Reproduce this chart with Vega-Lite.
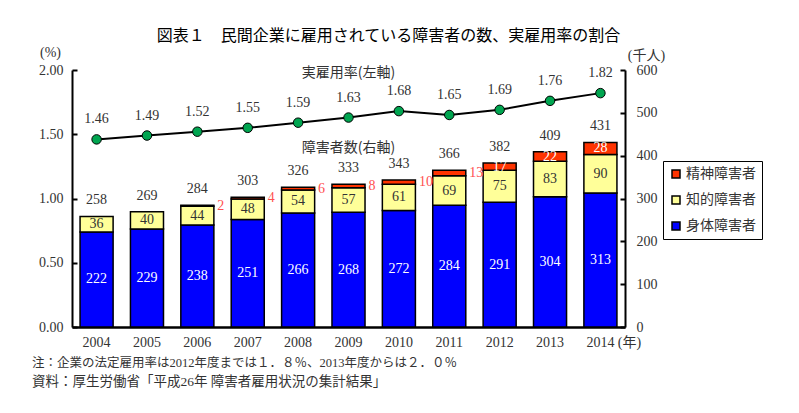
{
  "$schema": "https://vega.github.io/schema/vega-lite/v6.json",
  "width": 553,
  "height": 257,
  "autosize": {"type": "none"},
  "padding": {"left": 72, "top": 70, "right": 174, "bottom": 86},
  "background": "white",
  "title": {"text": "図表１　民間企業に雇用されている障害者の数、実雇用率の割合", "font": "Noto Sans CJK JP", "fontSize": 16, "fontWeight": "normal", "color": "black", "anchor": "middle", "dx": 40, "offset": 1},
  "config": {
    "view": {"stroke": null},
    "axis": {"labelFont": "Liberation Serif", "labelFontSize": 14, "labelColor": "#333", "titleFont": "Liberation Serif, Noto Sans CJK JP", "titleFontWeight": "normal", "titleFontSize": 14, "titleColor": "#333", "grid": false, "domainColor": "black", "domainWidth": 2, "tickColor": "black", "tickWidth": 2}
  },
  "datasets": {
    "bars": [
      {"year": "2004", "type": "body", "value": 222}, {"year": "2004", "type": "intellectual", "value": 36},
      {"year": "2005", "type": "body", "value": 229}, {"year": "2005", "type": "intellectual", "value": 40},
      {"year": "2006", "type": "body", "value": 238}, {"year": "2006", "type": "intellectual", "value": 44}, {"year": "2006", "type": "mental", "value": 2},
      {"year": "2007", "type": "body", "value": 251}, {"year": "2007", "type": "intellectual", "value": 48}, {"year": "2007", "type": "mental", "value": 4},
      {"year": "2008", "type": "body", "value": 266}, {"year": "2008", "type": "intellectual", "value": 54}, {"year": "2008", "type": "mental", "value": 6},
      {"year": "2009", "type": "body", "value": 268}, {"year": "2009", "type": "intellectual", "value": 57}, {"year": "2009", "type": "mental", "value": 8},
      {"year": "2010", "type": "body", "value": 272}, {"year": "2010", "type": "intellectual", "value": 61}, {"year": "2010", "type": "mental", "value": 10},
      {"year": "2011", "type": "body", "value": 284}, {"year": "2011", "type": "intellectual", "value": 69}, {"year": "2011", "type": "mental", "value": 13},
      {"year": "2012", "type": "body", "value": 291}, {"year": "2012", "type": "intellectual", "value": 75}, {"year": "2012", "type": "mental", "value": 17},
      {"year": "2013", "type": "body", "value": 304}, {"year": "2013", "type": "intellectual", "value": 83}, {"year": "2013", "type": "mental", "value": 22},
      {"year": "2014", "type": "body", "value": 313}, {"year": "2014", "type": "intellectual", "value": 90}, {"year": "2014", "type": "mental", "value": 28}
    ],
    "years": [
      {"year": "2004", "total": 258, "rate": 1.46},
      {"year": "2005", "total": 269, "rate": 1.49},
      {"year": "2006", "total": 284, "rate": 1.52},
      {"year": "2007", "total": 303, "rate": 1.55},
      {"year": "2008", "total": 326, "rate": 1.59},
      {"year": "2009", "total": 333, "rate": 1.63},
      {"year": "2010", "total": 343, "rate": 1.68},
      {"year": "2011", "total": 366, "rate": 1.65},
      {"year": "2012", "total": 382, "rate": 1.69},
      {"year": "2013", "total": 409, "rate": 1.76},
      {"year": "2014", "total": 431, "rate": 1.82}
    ]
  },
  "encoding": {
    "x": {
      "field": "year", "type": "nominal",
      "scale": {"paddingInner": 0.344, "paddingOuter": 0.16},
      "axis": {"title": "(年)", "titleX": 557, "titleY": 15, "titleAlign": "center", "titleBaseline": "middle", "ticks": false, "labelPadding": 8, "labelAngle": 0, "domainWidth": 2.5}
    }
  },
  "layer": [
    {
      "data": {"name": "bars"},
      "transform": [{"stack": "value", "groupby": ["year"], "sort": [{"field": "type", "order": "ascending"}], "as": ["v0", "v1"]}],
      "layer": [
        {
          "mark": {"type": "bar", "stroke": "black", "strokeWidth": 1.5},
          "encoding": {
            "y": {"field": "v0", "type": "quantitative", "scale": {"domain": [0, 600]},
              "axis": {"orient": "right", "values": [0, 100, 200, 300, 400, 500, 600], "title": "(千人)", "titleAngle": 0, "titleX": 21, "titleY": -15, "titleAlign": "center", "titleBaseline": "middle", "tickSize": -5, "labelPadding": 16}},
            "y2": {"field": "v1"},
            "color": {"field": "type", "type": "nominal",
              "scale": {"domain": ["body", "intellectual", "mental"], "range": ["#0000ff", "#ffff99", "#ff3300"]},
              "legend": {"orient": "none", "legendX": 591, "legendY": 91, "title": null, "values": ["mental", "intellectual", "body"],
                "labelExpr": "datum.label == 'mental' ? '精神障害者' : datum.label == 'intellectual' ? '知的障害者' : '身体障害者'",
                "symbolType": "square", "symbolSize": 64, "symbolStrokeColor": "black", "symbolStrokeWidth": 1.5,
                "labelFont": "Noto Sans CJK JP", "labelFontSize": 14, "labelColor": "#333", "strokeColor": "black", "fillColor": "white",
                "padding": 6, "rowPadding": 12, "labelOffset": 3}}
          }
        },
        {
          "transform": [
            {"filter": "datum.type != 'mental' || datum.year >= '2012'"},
            {"fold": ["v0", "v1"], "as": ["edge", "pos"]}
          ],
          "mark": {"type": "text", "font": "Liberation Serif", "fontSize": 14, "baseline": "middle"},
          "encoding": {
            "y": {"field": "pos", "type": "quantitative", "aggregate": "mean"},
            "detail": {"field": "type"},
            "text": {"field": "value", "type": "quantitative"},
            "color": {"condition": {"test": "datum.type == 'intellectual'", "value": "#333"}, "value": "white"}
          }
        },
        {
          "transform": [
            {"filter": "datum.type == 'mental' && datum.year < '2012'"},
            {"fold": ["v0", "v1"], "as": ["edge", "pos"]}
          ],
          "mark": {"type": "text", "font": "Liberation Serif", "fontSize": 14, "baseline": "middle", "align": "left", "dx": 20, "color": "#ff5050"},
          "encoding": {
            "y": {"field": "pos", "type": "quantitative", "aggregate": "mean"},
            "detail": {"field": "type"},
            "text": {"field": "value", "type": "quantitative"}
          }
        },
        {
          "data": {"name": "years"},
          "transform": [],
          "mark": {"type": "text", "font": "Liberation Serif", "fontSize": 14, "baseline": "middle", "dy": -16, "color": "#333"},
          "encoding": {
            "y": {"field": "total", "type": "quantitative"},
            "text": {"field": "total", "type": "quantitative"}
          }
        }
      ]
    },
    {
      "data": {"name": "years"},
      "layer": [
        {
          "mark": {"type": "line", "color": "black", "strokeWidth": 2},
          "encoding": {
            "y": {"field": "rate", "type": "quantitative", "scale": {"domain": [0, 2]},
              "axis": {"orient": "left", "values": [0, 0.5, 1, 1.5, 2], "format": ".2f", "title": "(%)", "titleAngle": 0, "titleX": -22, "titleY": -18, "titleAlign": "center", "titleBaseline": "middle", "tickSize": -5, "labelPadding": 14}}
          }
        },
        {
          "mark": {"type": "point", "filled": true, "fill": "#00a550", "stroke": "black", "strokeWidth": 1, "size": 90, "opacity": 1},
          "encoding": {"y": {"field": "rate", "type": "quantitative"}}
        },
        {
          "mark": {"type": "text", "font": "Liberation Serif", "fontSize": 14, "baseline": "middle", "dy": -20, "color": "#333"},
          "encoding": {"y": {"field": "rate", "type": "quantitative"}, "text": {"field": "rate", "type": "quantitative", "format": ".2f"}}
        },
        {
          "data": {"values": [{}]},
          "mark": {"type": "text", "text": "実雇用率(左軸)", "font": "Noto Sans CJK JP", "fontSize": 14, "baseline": "middle", "color": "#333"},
          "encoding": {"x": {"datum": "2009"}, "y": {"datum": 1.98}}
        },
        {
          "data": {"values": [{}]},
          "mark": {"type": "text", "text": "障害者数(右軸)", "font": "Noto Sans CJK JP", "fontSize": 14, "baseline": "middle", "color": "#333"},
          "encoding": {"x": {"datum": "2009"}, "y": {"datum": 1.39}}
        },
        {
          "data": {"values": [{}]},
          "mark": {"type": "text", "text": "注：企業の法定雇用率は2012年度までは１．８％、2013年度からは２．０％", "font": "Liberation Serif, Noto Sans CJK JP", "fontSize": 12.5, "baseline": "middle", "align": "left", "dx": -64.6, "color": "#333"},
          "encoding": {"x": {"datum": "2004"}, "y": {"datum": -0.28}}
        },
        {
          "data": {"values": [{}]},
          "mark": {"type": "text", "text": "資料：厚生労働省「平成26年 障害者雇用状況の集計結果」", "font": "Liberation Serif, Noto Sans CJK JP", "fontSize": 13.5, "baseline": "middle", "align": "left", "dx": -64.6, "color": "#333"},
          "encoding": {"x": {"datum": "2004"}, "y": {"datum": -0.428}}
        }
      ]
    }
  ],
  "resolve": {"scale": {"y": "independent"}}
}
